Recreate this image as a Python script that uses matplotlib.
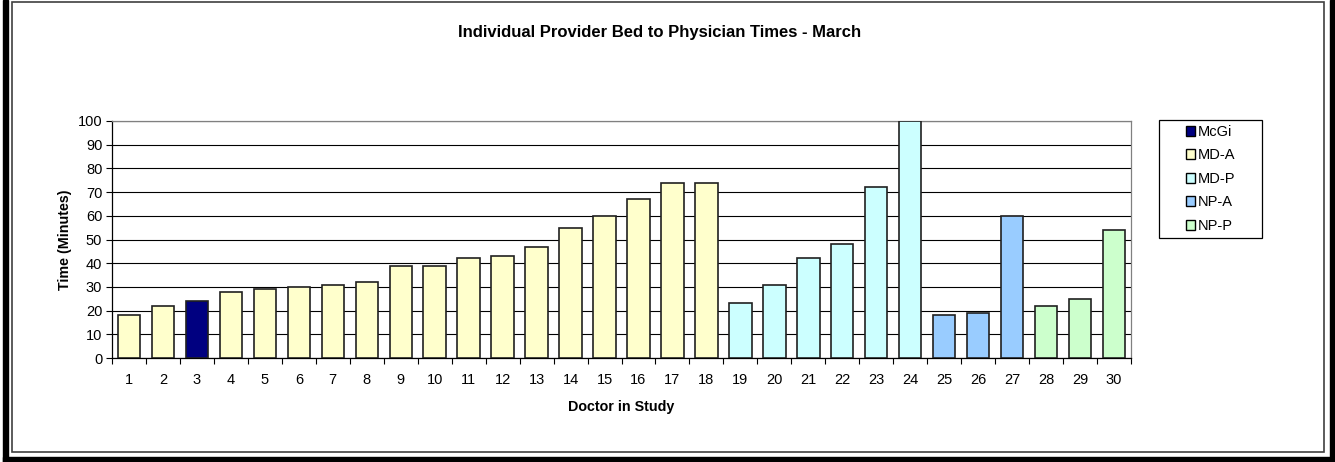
import numpy as np
import matplotlib.pyplot as plt
from matplotlib.patches import Rectangle, Patch

plt.rcParams['font.family'] = ['Liberation Sans', 'DejaVu Sans']

# data
doctors = list(range(1, 31))
times = [18, 22, 24, 28, 29, 30, 31, 32, 39, 39, 42, 43, 47, 55, 60,
         67, 74, 74, 23, 31, 42, 48, 72, 100, 18, 19, 60, 22, 25, 54]
groups = ['MD-A', 'MD-A', 'McGi'] + ['MD-A'] * 15 + ['MD-P'] * 6 + ['NP-A'] * 3 + ['NP-P'] * 3

group_names = ['McGi', 'MD-A', 'MD-P', 'NP-A', 'NP-P']
group_colors = {'McGi': '#000080', 'MD-A': '#FFFFCC', 'MD-P': '#CCFFFF',
                'NP-A': '#99CCFF', 'NP-P': '#CCFFCC'}

W, H = 1335, 462
fig = plt.figure(figsize=(13.35, 4.62), dpi=100)
ax = fig.add_axes([112 / W, 1 - 358 / H, (1131 - 112) / W, (358 - 121) / H])

colors = [group_colors[g] for g in groups]
ax.bar(doctors, times, width=0.66, color=colors, edgecolor='#202020', linewidth=1.2, zorder=3)

ax.set_xlim(0.5, 30.5)
ax.set_ylim(0, 100)
ax.set_yticks(np.arange(0, 101, 10))
ax.set_xticks(doctors)
ax.set_xticks(np.arange(0.5, 31, 1), minor=True)
ax.tick_params(axis='x', which='major', length=0, pad=11, labelsize=10.5)
ax.tick_params(axis='x', which='minor', length=4, width=0.8, direction='out')
ax.tick_params(axis='y', length=4, width=0.8, labelsize=10.5, pad=3)

ax.yaxis.grid(True, color='black', linewidth=0.8, zorder=0)
ax.set_axisbelow(True)
ax.spines['top'].set_color('#808080')
ax.spines['right'].set_color('#808080')
for s in ax.spines.values():
    s.set_linewidth(0.9)

ax.set_xlabel('Doctor in Study', fontsize=10.3, fontweight='bold', labelpad=9)
ax.set_ylabel('Time (Minutes)', fontsize=10.3, fontweight='bold', labelpad=4)

fig.text(660 / W, 1 - 32 / H, 'Individual Provider Bed to Physician Times - March',
         ha='center', va='center', fontsize=12, fontweight='bold')

# legend frame drawn separately so it can be as wide as the original
fig.patches.append(Rectangle((1159 / W, 1 - 238 / H), (1262 - 1159) / W, (238 - 120) / H,
                             transform=fig.transFigure, facecolor='white',
                             edgecolor='black', linewidth=0.9, zorder=2))
handles = [Patch(facecolor=group_colors[g], edgecolor='black', linewidth=1.0) for g in group_names]
leg = fig.legend(handles, group_names, loc='upper left',
                 bbox_to_anchor=(1186 / W, 1 - 125 / H), fontsize=10.5,
                 frameon=False, handlelength=0.65, handleheight=0.65,
                 handletextpad=0.15, labelspacing=0.65, borderpad=0,
                 borderaxespad=0)
leg.set_zorder(3)

# page border with shadow
fig.patches.append(Rectangle((3 / W, 0), 5 / W, 1, transform=fig.transFigure,
                             color='black', zorder=0))
fig.patches.append(Rectangle((1330 / W, 0), 5 / W, 1, transform=fig.transFigure,
                             color='black', zorder=0))
fig.patches.append(Rectangle((3 / W, 0), 1 - 3 / W, 5 / H, transform=fig.transFigure,
                             color='black', zorder=0))
fig.patches.append(Rectangle((12 / W, 1 - 452 / H), (1324 - 12) / W, (452 - 2) / H,
                             transform=fig.transFigure, fill=False,
                             edgecolor='#404040', linewidth=1.2, zorder=1))

fig.savefig('out.png', dpi=100)
